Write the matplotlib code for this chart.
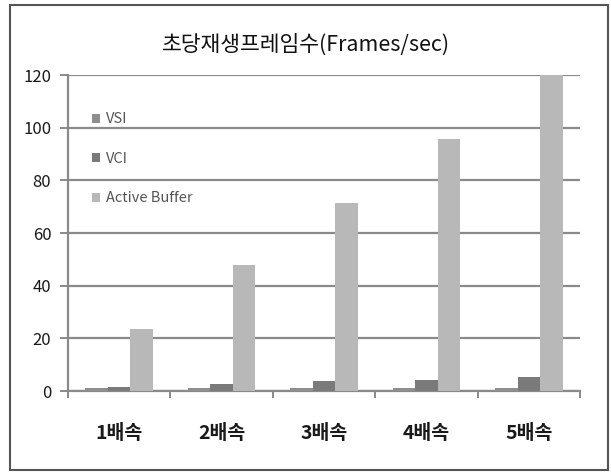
import numpy as np
import matplotlib
matplotlib.use('Agg')
from matplotlib import pyplot as plt
from matplotlib.patches import Rectangle

plt.rcParams['font.family'] = ['Noto Sans CJK KR', 'DejaVu Sans']

# 재생 속도별 초당 프레임 수
categories = ['1배속', '2배속', '3배속', '4배속', '5배속']
vsi = [1.2, 1.2, 1.1, 1.1, 1.1]
vci = [1.4, 2.5, 3.8, 4.3, 5.4]
active_buffer = [23.5, 47.8, 71.5, 95.7, 120.0]

series = [('VSI', vsi, '#8e8e8e'),
          ('VCI', vci, '#7a7a7a'),
          ('Active Buffer', active_buffer, '#b8b8b8')]

fig = plt.figure(figsize=(6.11, 4.73), dpi=100)
ax = fig.add_axes([68/611, 1-391/473, 512/611, 316/473])

x = np.arange(len(categories))
w = 0.22
for i, (name, vals, col) in enumerate(series):
    ax.bar(x + (i-1)*w, vals, w, color=col, label=name, zorder=3)

ax.set_xlim(-0.5, 4.5)
ax.set_ylim(0, 120)
ax.set_yticks(range(0, 121, 20))
ax.yaxis.grid(True, color='#8a8a8a', linewidth=1.6, zorder=0)

# 항목 경계에 눈금, 항목 중앙에 이름
ax.set_xticks(np.arange(-0.5, 5, 1))
ax.set_xticklabels([])
ax.set_xticks(x, minor=True)
ax.set_xticklabels(categories, minor=True, fontsize=14, fontweight='bold', color='#1a1a1a')
ax.tick_params(axis='x', which='minor', length=0, pad=24)
ax.tick_params(axis='x', which='major', length=5, color='#8a8a8a', width=1.4)
ax.tick_params(axis='y', length=6, color='#8a8a8a', width=1.4, labelsize=12,
               labelcolor='#1a1a1a', pad=6)

for s in ['top', 'right']:
    ax.spines[s].set_visible(False)
for s in ['left', 'bottom']:
    ax.spines[s].set_color('#8a8a8a')
    ax.spines[s].set_linewidth(1.6)

leg = ax.legend(loc='upper left', bbox_to_anchor=(0.035, 0.90), frameon=False,
                fontsize=10.5, labelspacing=1.75, handlelength=0.55, handleheight=0.55,
                handletextpad=0.4, borderaxespad=0)
for t in leg.get_texts():
    t.set_color('#555555')

fig.text(0.5, 1-45/473, '초당재생프레임수(Frames/sec)', ha='center', va='center',
         fontsize=15.5, color='#111111')

# 차트 외곽선
fig.patches.append(Rectangle((10/611, 3/473), 598/611, 465/473, transform=fig.transFigure,
                             fill=False, edgecolor='#555555', linewidth=1.5))

plt.savefig('out.png', dpi=100)
